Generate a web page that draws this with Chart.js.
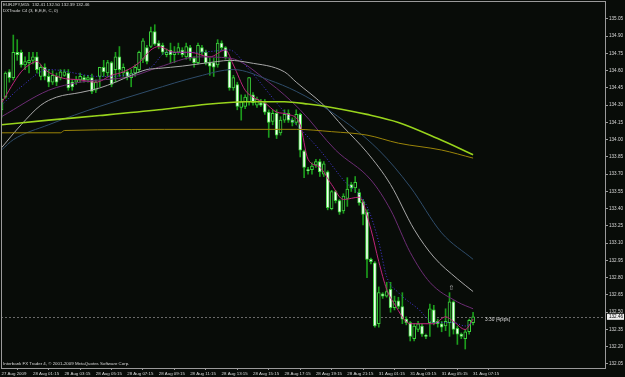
<!DOCTYPE html>
<html lang="en">
<head>
<meta charset="UTF-8" />
<title>EURJPY,M15</title>
<script src="https://cdn.jsdelivr.net/npm/chart.js@4"></script>
<style>
  html, body { margin: 0; padding: 0; background: #080c08; }
  #wrap { width: 625px; height: 377px; }
</style>
</head>
<body>
<div id="wrap"><canvas id="chart" width="625" height="377"></canvas></div>
<script>
// M15 candles, bar 0 = 27 Aug 23:15
const opens = [
  134.26, 134.37, 134.59, 134.54, 134.76, 134.76, 134.65, 134.67, 134.69, 134.72,
  134.55, 134.63, 134.55, 134.50, 134.55, 134.54, 134.56, 134.58, 134.50, 134.50,
  134.52, 134.54, 134.52, 134.54, 134.43, 134.55, 134.63, 134.58, 134.67, 134.61,
  134.72, 134.58, 134.59, 134.54, 134.58, 134.61, 134.70, 134.80, 134.81, 134.94,
  134.84, 134.82, 134.74, 134.78, 134.74, 134.76, 134.78, 134.72, 134.80, 134.71,
  134.67, 134.80, 134.76, 134.67, 134.67, 134.65, 134.84, 134.80, 134.68, 134.45,
  134.48, 134.28, 134.29, 134.33, 134.39, 134.30, 134.32, 134.32, 134.24, 134.16,
  134.23, 134.06, 134.17, 134.23, 134.17, 134.15, 134.22, 133.90, 133.74, 133.74,
  133.78, 133.81, 133.70, 133.72, 133.40, 133.55, 133.47, 133.38, 133.49, 133.61,
  133.58, 133.54, 133.46, 133.37, 132.96, 132.93, 132.40, 132.66, 132.64, 132.70,
  132.54, 132.60, 132.55, 132.44, 132.41, 132.27, 132.35, 132.38, 132.30, 132.41,
  132.52, 132.42, 132.40, 132.38, 132.41, 132.59, 132.36, 132.31, 132.27, 132.33,
  132.41
];
const highs = [
  134.36, 134.59, 134.61, 134.91, 134.87, 134.78, 134.72, 134.76, 134.76, 134.76,
  134.65, 134.66, 134.61, 134.60, 134.58, 134.61, 134.61, 134.61, 134.52, 134.55,
  134.58, 134.56, 134.56, 134.57, 134.52, 134.63, 134.69, 134.69, 134.68, 134.76,
  134.81, 134.66, 134.61, 134.61, 134.65, 134.77, 134.88, 134.82, 134.98, 135.00,
  134.86, 134.84, 134.79, 134.84, 134.81, 134.84, 134.80, 134.84, 134.82, 134.72,
  134.84, 134.82, 134.78, 134.71, 134.71, 134.87, 134.86, 134.81, 134.71, 134.56,
  134.50, 134.39, 134.39, 134.54, 134.41, 134.37, 134.35, 134.35, 134.26, 134.26,
  134.26, 134.20, 134.26, 134.26, 134.19, 134.26, 134.23, 133.91, 133.76, 133.80,
  133.83, 133.83, 133.81, 133.73, 133.56, 133.56, 133.48, 133.53, 133.67, 133.63,
  133.68, 133.57, 133.48, 133.39, 132.97, 132.94, 132.72, 132.67, 132.76, 132.76,
  132.64, 132.63, 132.67, 132.46, 132.42, 132.40, 132.42, 132.40, 132.31, 132.57,
  132.56, 132.44, 132.42, 132.53, 132.67, 132.60, 132.38, 132.32, 132.35, 132.44,
  132.50
];
const lows = [
  134.19, 134.36, 134.50, 134.52, 134.69, 134.63, 134.61, 134.58, 134.66, 134.58,
  134.52, 134.52, 134.46, 134.48, 134.47, 134.52, 134.55, 134.43, 134.43, 134.48,
  134.50, 134.50, 134.50, 134.40, 134.41, 134.46, 134.55, 134.55, 134.46, 134.50,
  134.55, 134.55, 134.52, 134.46, 134.55, 134.59, 134.67, 134.66, 134.80, 134.82,
  134.79, 134.74, 134.72, 134.67, 134.67, 134.74, 134.72, 134.70, 134.69, 134.63,
  134.66, 134.74, 134.65, 134.56, 134.55, 134.63, 134.78, 134.70, 134.43, 134.43,
  134.26, 134.17, 134.27, 134.30, 134.30, 134.28, 134.29, 134.22, 134.02, 134.13,
  134.01, 134.04, 134.15, 134.15, 134.12, 134.13, 133.85, 133.67, 133.70, 133.70,
  133.76, 133.68, 133.68, 133.39, 133.39, 133.45, 133.35, 133.36, 133.42, 133.55,
  133.54, 133.43, 133.26, 132.80, 132.92, 132.37, 132.37, 132.62, 132.63, 132.50,
  132.52, 132.53, 132.40, 132.39, 132.25, 132.25, 132.33, 132.29, 132.27, 132.29,
  132.39, 132.37, 132.33, 132.34, 132.29, 132.31, 132.22, 132.27, 132.18, 132.31,
  132.39
];
const closes = [
  134.35, 134.58, 134.54, 134.76, 134.74, 134.65, 134.68, 134.69, 134.72, 134.61,
  134.63, 134.55, 134.50, 134.56, 134.50, 134.59, 134.59, 134.45, 134.46, 134.52,
  134.55, 134.52, 134.54, 134.42, 134.50, 134.63, 134.59, 134.67, 134.48, 134.72,
  134.61, 134.63, 134.55, 134.58, 134.63, 134.76, 134.86, 134.68, 134.94, 134.83,
  134.81, 134.76, 134.76, 134.74, 134.76, 134.80, 134.74, 134.81, 134.71, 134.67,
  134.82, 134.76, 134.67, 134.64, 134.63, 134.84, 134.80, 134.72, 134.45, 134.54,
  134.29, 134.33, 134.37, 134.54, 134.32, 134.35, 134.30, 134.24, 134.15, 134.23,
  134.04, 134.17, 134.22, 134.17, 134.15, 134.22, 133.91, 133.76, 133.73, 133.77,
  133.81, 133.72, 133.79, 133.41, 133.55, 133.47, 133.37, 133.51, 133.57, 133.58,
  133.63, 133.45, 133.35, 132.96, 132.94, 132.38, 132.67, 132.64, 132.68, 132.54,
  132.60, 132.55, 132.44, 132.41, 132.29, 132.38, 132.40, 132.31, 132.29, 132.53,
  132.41, 132.40, 132.37, 132.42, 132.59, 132.35, 132.31, 132.29, 132.33, 132.43,
  132.46
];

// moving averages: [bar, price]
const maMagenta = [
  [0, 134.32], [5, 134.59], [7, 134.65], [9, 134.68], [11, 134.61], [15, 134.54],
  [20, 134.52], [24, 134.50], [28, 134.56], [31, 134.59], [35, 134.67], [38, 134.78],
  [40, 134.81], [44, 134.76], [48, 134.76], [53, 134.72], [57, 134.78], [59, 134.65],
  [62, 134.43], [64, 134.37], [67, 134.32], [70, 134.24], [73, 134.22], [76, 134.13],
  [78, 133.83], [81, 133.76], [84, 133.61], [87, 133.48], [91, 133.50], [94, 133.22],
  [96, 132.94], [98, 132.70], [100, 132.57], [104, 132.40], [107, 132.40], [110, 132.40],
  [113, 132.46], [115, 132.42], [118, 132.35], [120, 132.44]
];
const maBlue = [
  [0, 134.30], [5, 134.46], [12, 134.61], [25, 134.55], [38, 134.63], [42, 134.76],
  [50, 134.76], [58, 134.78], [63, 134.61], [72, 134.24], [81, 133.91], [87, 133.65],
  [93, 133.42], [96, 133.11], [98, 132.81], [101, 132.67], [106, 132.53], [110, 132.41],
  [115, 132.41], [118, 132.38], [120, 132.41]
];
const maPurple = [
  [0, 134.20], [12, 134.43], [20, 134.50], [33, 134.55], [40, 134.63], [50, 134.72],
  [58, 134.71], [68, 134.50], [76, 134.26], [85, 133.91], [94, 133.65], [99, 133.39],
  [104, 133.02], [109, 132.76], [116, 132.59], [120, 132.53]
];
const maGray = [
  [0, 133.93], [5, 134.13], [10, 134.30], [14, 134.37], [20, 134.41], [25, 134.45],
  [29, 134.50], [33, 134.56], [37, 134.61], [40, 134.62], [46, 134.64], [55, 134.68],
  [58, 134.69], [63, 134.67], [72, 134.59], [75, 134.50], [82, 134.30], [87, 134.11],
  [93, 133.89], [99, 133.61], [105, 133.22], [110, 132.98], [116, 132.79], [120, 132.68]
];
const maSlate = [
  [0, 133.91], [3, 134.00], [12, 134.13], [25, 134.29], [38, 134.43], [50, 134.55],
  [59, 134.61], [68, 134.52], [75, 134.42], [84, 134.24], [96, 133.91], [104, 133.59],
  [112, 133.19], [120, 132.96]
];
const maLime = [
  [0, 134.13], [12, 134.17], [25, 134.21], [40, 134.26], [50, 134.30], [62, 134.33],
  [72, 134.33], [78, 134.31], [84, 134.28], [93, 134.22], [101, 134.15], [111, 134.01],
  [120, 133.87]
];
const maOlive = [
  [0, 134.06], [15, 134.06], [16, 134.08], [50, 134.09], [75, 134.09], [84, 134.07],
  [93, 134.04], [101, 133.97], [112, 133.91], [120, 133.84]
];

const xTickBars = [0, 8, 16, 24, 32, 40, 48, 56, 64, 72, 80, 88, 96, 104, 112, 120];
const xTickLabels = [
  "27 Aug 2009", "28 Aug 01:15", "28 Aug 03:15", "28 Aug 05:15", "28 Aug 07:15",
  "28 Aug 09:15", "28 Aug 11:15", "28 Aug 13:15", "28 Aug 15:15", "28 Aug 17:15",
  "28 Aug 19:15", "28 Aug 21:15", "31 Aug 01:15", "31 Aug 03:15", "31 Aug 05:15",
  "31 Aug 07:15"
];
const yTicks = [
  132.05, 132.20, 132.35, 132.50, 132.65, 132.80, 132.95, 133.10, 133.25, 133.40,
  133.55, 133.70, 133.85, 134.00, 134.15, 134.30, 134.45, 134.60, 134.75, 134.90, 135.05
];
const fractalBar = 114;
const fractalPrice = 132.71;

const BG = "#080c08";
const TEXT = "#d8d8d8";
const FRAME = "#9a9a9a";
const FONT = '"Liberation Sans", Arial, sans-serif';

const pts = (arr) => arr.map(([x, y]) => ({ x, y }));
const lastClose = closes[closes.length - 1];

const maLine = (data, color, width, extra) => Object.assign({
  type: "line",
  data: pts(data),
  borderColor: color,
  borderWidth: width,
  pointRadius: 0,
  fill: false,
  cubicInterpolationMode: "monotone",
  order: 0,
}, extra || {});

const mt4Extras = {
  id: "mt4Extras",
  beforeDraw(chart) {
    const ctx = chart.ctx;
    ctx.save();
    ctx.fillStyle = BG;
    ctx.fillRect(0, 0, chart.width, chart.height);
    ctx.restore();
  },
  beforeDatasetsDraw(chart) {
    const { ctx, chartArea } = chart;
    const y = Math.round(chart.scales.y.getPixelForValue(lastClose)) + 0.5;
    ctx.save();
    ctx.strokeStyle = "#6a6a6a";
    ctx.lineWidth = 1;
    ctx.setLineDash([2, 2]);
    ctx.beginPath();
    ctx.moveTo(chartArea.left, y);
    ctx.lineTo(chartArea.right, y);
    ctx.stroke();
    ctx.restore();
  },
  afterDraw(chart) {
    const { ctx, chartArea } = chart;
    const { left, top, right, bottom } = chartArea;
    ctx.save();
    // frame
    ctx.strokeStyle = FRAME;
    ctx.lineWidth = 1;
    ctx.strokeRect(left + 0.5, top + 0.5, right - left - 1, bottom - top);

    // fractal arrow
    const fx = chart.scales.x.getPixelForValue(fractalBar) + 2;
    const fy = chart.scales.y.getPixelForValue(fractalPrice);
    ctx.fillStyle = "#b8b8b8";
    ctx.font = '7px "DejaVu Sans"';
    ctx.textAlign = "center";
    ctx.textBaseline = "middle";
    ctx.fillText("\u21E7", fx, fy);

    // current price box
    const py = chart.scales.y.getPixelForValue(lastClose);
    ctx.fillStyle = "#f0f0f0";
    ctx.fillRect(right + 1, py - 3, 17, 6);
    ctx.fillStyle = "#000000";
    ctx.font = "4.6px " + FONT;
    ctx.textAlign = "left";
    ctx.fillText(lastClose.toFixed(2), right + 3, py + 0.3);

    // texts
    ctx.fillStyle = TEXT;
    ctx.font = "4.4px " + FONT;
    ctx.fillText("EURJPY,M15  132.41 132.50 132.39 132.46", 3, 4.5);
    ctx.fillText("DXTrade C4 (3, E,E,E, C, 0)", 3, 10.5);
    ctx.fillText("Interbank FX Trader 4, \u00A9 2001-2009 MetaQuotes Software Corp.", 3, 364);
    ctx.font = "4.8px " + FONT;
    ctx.fillText("3:30 (4pips)", 485, 320);
    ctx.restore();
  }
};

new Chart(document.getElementById("chart"), {
  data: {
    datasets: [
      maLine(maOlive, "#9a8408", 1),
      maLine(maLime, "#98d41c", 1.6),
      maLine(maSlate, "#2e4c6a", 1),
      maLine(maGray, "#a8a8a8", 1),
      maLine(maPurple, "#6c2c74", 1),
      maLine(maBlue, "#4638e0", 1, { borderDash: [1, 2] }),
      maLine(maMagenta, "#c0247c", 1),
      {
        type: "bar",
        data: closes.map((c, i) => ({ x: i, y: [opens[i], c] })),
        backgroundColor: closes.map((c, i) => (c < opens[i] ? "#f4fff4" : BG)),
        borderColor: "#3cd23c",
        borderWidth: 1,
        borderSkipped: false,
        barThickness: 3,
        grouped: false,
        order: 2,
      },
      {
        type: "bar",
        data: lows.map((l, i) => ({ x: i, y: [l, highs[i]] })),
        backgroundColor: "#1c9c1c",
        barThickness: 1,
        grouped: false,
        order: 3,
      },
    ],
  },
  options: {
    responsive: false,
    animation: false,
    devicePixelRatio: 1,
    layout: { padding: { left: 1, top: 1, right: 0, bottom: 0 } },
    plugins: { legend: { display: false }, tooltip: { enabled: false } },
    scales: {
      x: {
        type: "linear",
        position: "bottom",
        min: -0.13,
        max: 153.82,
        offset: false,
        afterBuildTicks: (s) => { s.ticks = xTickBars.map((v) => ({ value: v })); },
        afterFit: (s) => { s.height = 9; s.paddingLeft = 0; s.paddingRight = 0; },
        ticks: {
          autoSkip: false,
          maxRotation: 0,
          align: "start",
          padding: 1,
          color: TEXT,
          font: { size: 4.4, family: FONT },
          callback: (v, i) => xTickLabels[i],
        },
        grid: { drawOnChartArea: false, tickLength: 2, color: FRAME },
        border: { display: false },
      },
      y: {
        type: "linear",
        position: "right",
        min: 132.015,
        max: 135.206,
        afterBuildTicks: (s) => { s.ticks = yTicks.map((v) => ({ value: v })); },
        afterFit: (s) => { s.width = 19; s.paddingTop = 0; s.paddingBottom = 0; },
        ticks: {
          padding: 1,
          color: TEXT,
          font: { size: 4.6, family: FONT },
          callback: (v) => Number(v).toFixed(2),
        },
        grid: { drawOnChartArea: false, tickLength: 2, color: FRAME },
        border: { display: false },
      },
    },
  },
  plugins: [mt4Extras],
});
</script>
</body>
</html>
